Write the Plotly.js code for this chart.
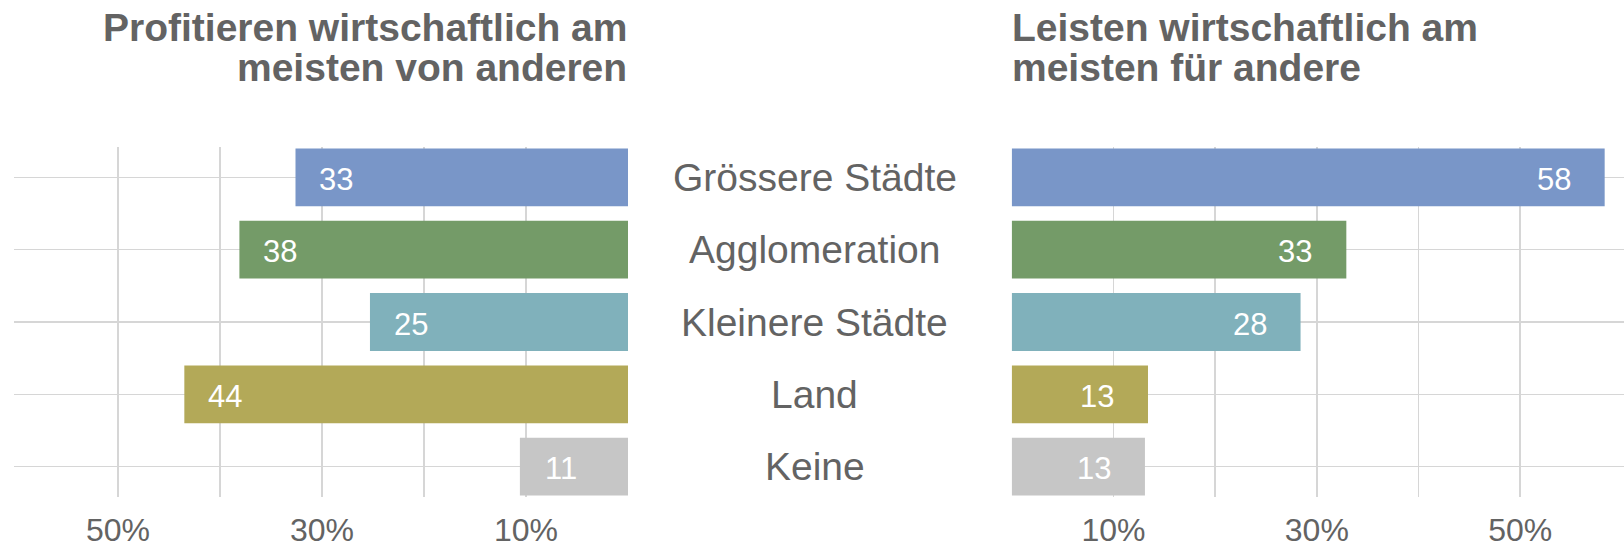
<!DOCTYPE html>
<html>
<head>
<meta charset="utf-8">
<script src="https://cdn.plot.ly/plotly-3.0.1.min.js"></script>
<style>html,body{margin:0;padding:0;background:#fff;}#chart{width:1624px;height:548px;}</style>
</head>
<body>
<div id="chart"></div>
<script>
const categories = ['Grössere Städte', 'Agglomeration', 'Kleinere Städte', 'Land', 'Keine'];
const profitieren = [32.6, 38.1, 25.3, 43.5, 10.6];
const leisten = [58.3, 32.9, 28.4, 13.4, 13.1];
const profitierenLabels = ['33', '38', '25', '44', '11'];
const leistenLabels = ['58', '33', '28', '13', '13'];
const barColors = ['#7996C8', '#749B68', '#80B1BB', '#B3A958', '#C6C6C6'];
const tickVals = [0, 10, 20, 30, 40, 50];
const tickText = ['', '10%', '', '30%', '', '50%'];
const leftTitleLines = ['Profitieren wirtschaftlich am', 'meisten von anderen'];
const rightTitleLines = ['Leisten wirtschaftlich am', 'meisten für andere'];

const W = 1624, H = 548;
const textColor = '#636363';
const gridColor = '#d6d6d6';
const FONT = '"Liberation Sans", Arial, Helvetica, sans-serif';
const leftDom = [14 / W, 628 / W];
const rightDom = [1011.7 / W, 1];
const yDom = [(H - 497) / H, (H - 147) / H];
const xMax = 60.2;

const traces = [
  {type: 'bar', orientation: 'h', x: profitieren, y: categories, xaxis: 'x', yaxis: 'y',
   marker: {color: barColors}, width: 0.8, hoverinfo: 'skip'},
  {type: 'bar', orientation: 'h', x: leisten, y: categories, xaxis: 'x2', yaxis: 'y2',
   marker: {color: barColors}, width: 0.8, hoverinfo: 'skip'}
];

const xCommon = {
  tickvals: tickVals, ticktext: tickText, showgrid: true, gridcolor: gridColor, gridwidth: 1.6,
  zeroline: false, showline: false, ticks: '', fixedrange: true, ticklabelstandoff: 11,
  tickfont: {family: FONT, size: 32, color: textColor}
};
const yCommon = {
  type: 'category', categoryarray: categories, range: [4.42, -0.42], domain: yDom,
  showticklabels: false, showgrid: true, gridcolor: gridColor, gridwidth: 1.6,
  zeroline: false, showline: false, ticks: '', fixedrange: true
};

const annotations = [];
// value labels inside the bars
categories.forEach((c, i) => {
  annotations.push({
    xref: 'x', yref: 'y', x: profitieren[i] - 4.0, y: c, text: profitierenLabels[i],
    showarrow: false, xanchor: 'center', yanchor: 'middle', yshift: -2,
    font: {family: FONT, size: 31, color: '#ffffff'}
  });
  annotations.push({
    xref: 'x2', yref: 'y2', x: leisten[i] - 5.0, y: c, text: leistenLabels[i],
    showarrow: false, xanchor: 'center', yanchor: 'middle', yshift: -2,
    font: {family: FONT, size: 31, color: '#ffffff'}
  });
});
// category names in the middle
categories.forEach(c => annotations.push({
  xref: 'paper', yref: 'y', x: 814.5 / W, y: c, text: c, showarrow: false,
  xanchor: 'center', yanchor: 'middle', font: {family: FONT, size: 39, color: textColor}
}));
const titleY = [27.5, 67.5];
leftTitleLines.forEach((t, i) => annotations.push({
  xref: 'paper', yref: 'paper', x: 629 / W, y: 1 - titleY[i] / H, text: '<b>' + t + '</b>',
  showarrow: false, xanchor: 'right', yanchor: 'middle',
  font: {family: FONT, size: 39, color: textColor}
}));
rightTitleLines.forEach((t, i) => annotations.push({
  xref: 'paper', yref: 'paper', x: 1010 / W, y: 1 - titleY[i] / H, text: '<b>' + t + '</b>',
  showarrow: false, xanchor: 'left', yanchor: 'middle',
  font: {family: FONT, size: 39, color: textColor}
}));

const layout = {
  width: W, height: H, margin: {l: 0, r: 0, t: 0, b: 0},
  paper_bgcolor: '#ffffff', plot_bgcolor: '#ffffff', showlegend: false,
  bargap: 0.2, hovermode: false,
  xaxis: Object.assign({}, xCommon, {domain: leftDom, range: [xMax, 0], anchor: 'y'}),
  yaxis: Object.assign({}, yCommon, {anchor: 'x'}),
  xaxis2: Object.assign({}, xCommon, {domain: rightDom, range: [0, xMax], anchor: 'y2'}),
  yaxis2: Object.assign({}, yCommon, {anchor: 'x2'}),
  annotations: annotations,
  font: {family: FONT, color: textColor}
};

Plotly.newPlot('chart', traces, layout, {displayModeBar: false, staticPlot: true});
</script>
</body>
</html>
